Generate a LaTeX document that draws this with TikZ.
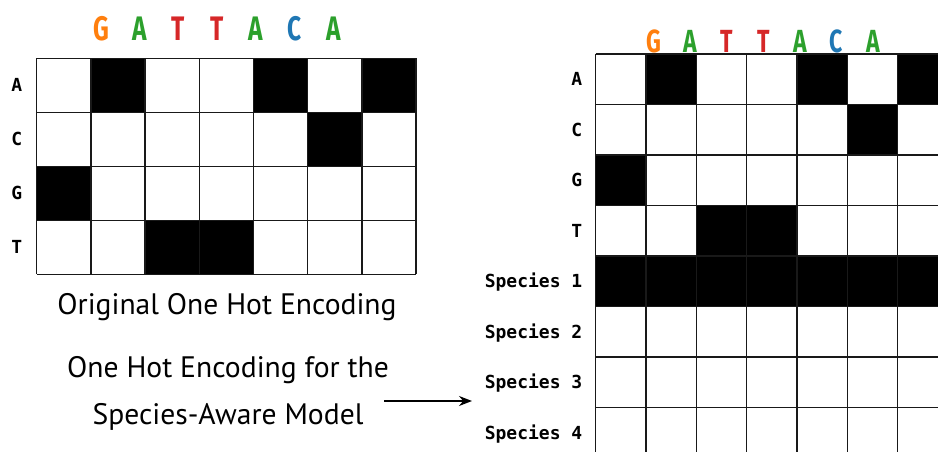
\documentclass[tikz,border=0pt]{standalone}
\usepackage{fontspec}
\setmainfont{PT Sans}
\newfontfamily\labelfont{DejaVu Sans Mono}
\newfontfamily\seqfont[FakeStretch=0.72]{Fira Sans}
\usetikzlibrary{arrows.meta}
\definecolor{baseorange}{RGB}{255,127,14}
\definecolor{basegreen}{RGB}{44,160,44}
\definecolor{basered}{RGB}{214,39,40}
\definecolor{baseblue}{RGB}{31,119,180}

\begin{document}
\begin{tikzpicture}[x=1pt,y=-1pt,
  gridline/.style={line width=1.3pt,black!90},
  seqletter/.style={anchor=base,inner sep=0pt,font={\seqfont\bfseries\fontsize{34}{34}\selectfont}},
  rowlabel/.style={anchor=base east,inner sep=0pt,font={\labelfont\bfseries\fontsize{18}{18}\selectfont}},
  caption/.style={align=center,inner sep=0pt,font={\fontsize{29.6}{47}\selectfont}}]
  \useasboundingbox (0,0) rectangle (938,452);
  \clip (0,0) rectangle (938,452);

  %% Original encoding (7 x 4)
  \def\lx{36.7} \def\ly{58.3} \def\lw{54.2} \def\lh{54}
  \foreach \c/\r in {0/2,1/0,2/3,3/3,4/0,5/1,6/0}
    \fill (\lx+\c*\lw,\ly+\r*\lh) rectangle ++(\lw,\lh);
  \foreach \c in {0,...,7}
    \draw[gridline] (\lx+\c*\lw,\ly) -- ++(0,4*\lh);
  \foreach \r in {0,...,4}
    \draw[gridline] (\lx,\ly+\r*\lh) -- ++(7*\lw,0);
  \foreach \b/\col [count=\i from 0] in {G/baseorange,A/basegreen,T/basered,T/basered,A/basegreen,C/baseblue,A/basegreen}
    \node[seqletter,text=\col] (lseq\i) at (101+\i*38.8,40.5) {\b};
  \foreach \b [count=\i from 0] in {A,C,G,T}
    \node[rowlabel] (lrow\b) at (22.5,\ly+\i*\lh+\lh/2+6.5) {\b};
  \node[caption] (origcap) at (227,307) {Original One Hot Encoding};

  %% Species-aware encoding (7 x 8)
  \def\rx{595.7} \def\ry{54} \def\rw{50.3} \def\rh{50.5}
  \foreach \c/\r in {0/2,1/0,2/3,3/3,4/0,5/1,6/0}
    \fill (\rx+\c*\rw,\ry+\r*\rh) rectangle ++(\rw,\rh);
  \fill (\rx,\ry+4*\rh) rectangle ++(7*\rw,\rh);
  \foreach \c in {0,...,7}
    \draw[gridline] (\rx+\c*\rw,\ry) -- ++(0,8*\rh);
  \foreach \r in {0,...,8}
    \draw[gridline] (\rx,\ry+\r*\rh) -- ++(7*\rw,0);
  \foreach \b/\col [count=\i from 0] in {G/baseorange,A/basegreen,T/basered,T/basered,A/basegreen,C/baseblue,A/basegreen}
    \node[seqletter,text=\col,font={\seqfont\bfseries\fontsize{32}{32}\selectfont}] (rseq\i) at (654+\i*36.5,53) {\b};
  \foreach \b [count=\i from 0] in {A,C,G,T,Species 1,Species 2,Species 3,Species 4}
    \node[rowlabel] (rrow\i) at (582.5,\ry+\i*\rh+\rh/2+6.5) {\b};
  \node[caption] (speccap) at (228,393.5) {One Hot Encoding for the\\Species-Aware Model};

  %% Pointer to the new grid
  \coordinate (arrtail) at (384,401);
  \coordinate (arrtip) at (472,401);
  \draw[-{Stealth[length=13pt,width=10pt]},line width=1.4pt] (arrtail) -- (arrtip);
\end{tikzpicture}
\end{document}
